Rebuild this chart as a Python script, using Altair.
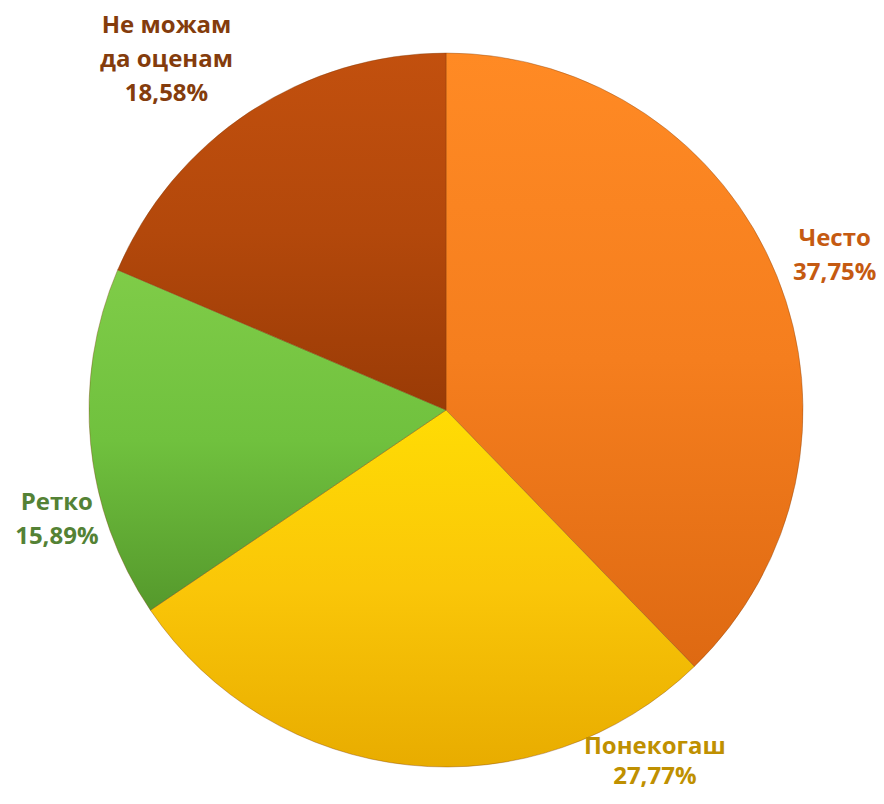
import altair as alt
import pandas as pd

categories = ["Често", "Понекогаш", "Ретко", "Не можам да оценам"]
values = [37.75, 27.77, 15.89, 18.58]
labels = ["Често\n37,75%", "Понекогаш\n27,77%", "Ретко\n15,89%", "Не можам\nда оценам\n18,58%"]
order = [0, 1, 2, 3]

df = pd.DataFrame({"cat": categories, "value": values, "label": labels, "idx": order})
total = sum(values)

W, H = 868, 788
CX, CY = 438, 402
R = 357

grad_stops = {
    "Често": ("#FF8A24", "#F57E1E", "#DE6912"),
    "Понекогаш": ("#FFDC04", "#FAC608", "#E8AC00"),
    "Ретко": ("#7FCC48", "#70C13E", "#55992C"),
    "Не можам да оценам": ("#C2500E", "#B3480B", "#9A3B06"),
}
label_colors = {
    "Често": "#C55A11",
    "Понекогаш": "#BF9000",
    "Ретко": "#548235",
    "Не можам да оценам": "#843C0C",
}
offsets = {
    "Често": (18, -21, 34),
    "Понекогаш": (250, -61, 30),
    "Ретко": (9, 55, 34),
    "Не можам да оценам": (-59, -50, 34),
}

base = alt.Chart(df).transform_window(
    end="sum(value)", sort=[alt.SortField("idx")], frame=[None, 0]
).transform_calculate(
    start="datum.end - datum.value",
    mid="datum.end - datum.value / 2",
)

theta_scale = alt.Scale(domain=[0, total], range=[0, 6.283185307179586])

layers = []
for cat in categories:
    c0, c1, c2 = grad_stops[cat]
    grad = alt.LinearGradient(
        gradient="linear",
        stops=[alt.GradientStop(color=c0, offset=0),
               alt.GradientStop(color=c1, offset=0.5),
               alt.GradientStop(color=c2, offset=1)],
        x1=0, x2=0, y1=0, y2=1,
    )
    layers.append(
        base.transform_filter(alt.datum.cat == cat)
        .mark_arc(outerRadius=R, fill=grad, stroke="#7a3a0a", strokeWidth=0.8, strokeOpacity=0.45)
        .encode(
            theta=alt.Theta("start:Q", scale=theta_scale),
            theta2="end:Q",
            x=alt.value(CX),
            y=alt.value(CY),
        )
    )

for cat in categories:
    dx, dy, lh = offsets[cat]
    layers.append(
        base.transform_filter(alt.datum.cat == cat)
        .mark_text(
            radius=400, dx=dx, dy=dy, font="Open Sans", fontWeight="bold",
            fontSize=24, lineHeight=lh, lineBreak="\n", align="center",
            baseline="middle", color=label_colors[cat],
        )
        .encode(
            theta=alt.Theta("mid:Q", scale=theta_scale),
            x=alt.value(CX),
            y=alt.value(CY),
            text="label:N",
        )
    )

chart = alt.layer(*layers).properties(
    width=W, height=H, padding=0, autosize=alt.AutoSizeParams(type="none"),
    background="white",
).configure_view(stroke=None)

chart.save("out.html", embed_options={"renderer": "svg", "actions": False})
